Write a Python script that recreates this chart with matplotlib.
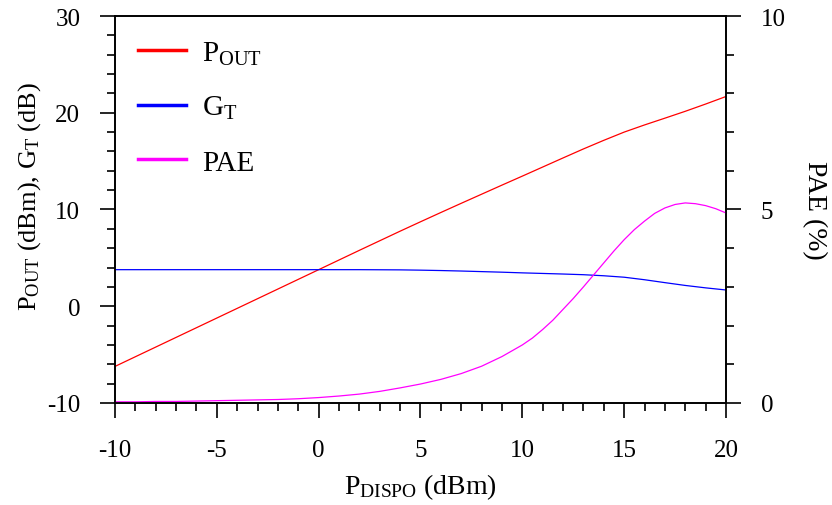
import numpy as np
import matplotlib
matplotlib.use("Agg")
import matplotlib.pyplot as plt
from matplotlib.ticker import MultipleLocator
from matplotlib.lines import Line2D

plt.rcParams['font.family'] = ['Liberation Serif', 'DejaVu Serif']
plt.rcParams['mathtext.fontset'] = 'custom'
plt.rcParams['mathtext.rm'] = 'Liberation Serif'
plt.rcParams['mathtext.it'] = 'Liberation Serif:italic'
plt.rcParams['axes.unicode_minus'] = False

# input power (dBm)
p_dispo = [-10, -9, -8, -7, -6, -5, -4, -3, -2, -1, 0, 1, 2, 3, 4, 5, 6, 7,
           8, 9, 10, 11, 12, 13, 14, 15, 16, 17, 18, 19, 20]
# output power (dBm)
p_out = [-6.22, -5.22, -4.22, -3.22, -2.22, -1.22, -0.22, 0.78, 1.78, 2.78,
         3.78, 4.78, 5.78, 6.77, 7.76, 8.73, 9.69, 10.64, 11.58, 12.52, 13.45,
         14.39, 15.33, 16.26, 17.15, 18.0, 18.74, 19.44, 20.15, 20.9, 21.68]
# transducer gain (dB)
g_t = [3.78, 3.78, 3.78, 3.78, 3.78, 3.78, 3.78, 3.78, 3.78, 3.78, 3.78,
       3.78, 3.78, 3.77, 3.76, 3.73, 3.69, 3.64, 3.58, 3.52, 3.45, 3.39,
       3.33, 3.26, 3.15, 3.0, 2.74, 2.44, 2.15, 1.9, 1.68]
# power added efficiency (%)
pae_x = [-10, -9, -8, -7, -6, -5, -4, -3, -2, -1, 0, 1, 2, 3, 4, 5, 6, 7,
         8, 9, 10, 10.5, 11, 11.5, 12, 12.5, 13, 13.5, 14, 14.5, 15, 15.5,
         16, 16.5, 17, 17.5, 18, 18.5, 19, 19.5, 20]
pae = [0.03, 0.03, 0.04, 0.04, 0.05, 0.06, 0.07, 0.08, 0.09, 0.11, 0.14,
       0.18, 0.23, 0.30, 0.39, 0.49, 0.61, 0.76, 0.95, 1.2, 1.5, 1.68, 1.9,
       2.14, 2.42, 2.7, 3.0, 3.31, 3.62, 3.93, 4.22, 4.48, 4.7, 4.9, 5.04,
       5.13, 5.17, 5.15, 5.1, 5.02, 4.91]

fig = plt.figure(figsize=(8.32, 5.06), dpi=100)
ax = fig.add_axes([0.1382, 0.2016, 0.7344, 0.7648])
ax2 = ax.twinx()

ax.plot(p_dispo, p_out, color='#ff0000', lw=0.9)
ax.plot(p_dispo, g_t, color='#0000ff', lw=0.9)
ax2.plot(pae_x, pae, color='#ff00ff', lw=0.9)

ax.set_xlim(-10, 20)
ax.set_ylim(-10, 30)
ax2.set_ylim(0, 10)

ax.xaxis.set_major_locator(MultipleLocator(5))
ax.xaxis.set_minor_locator(MultipleLocator(1))
ax.yaxis.set_major_locator(MultipleLocator(10))
ax.yaxis.set_minor_locator(MultipleLocator(2))
ax2.yaxis.set_major_locator(MultipleLocator(5))
ax2.yaxis.set_minor_locator(MultipleLocator(1))

for a in (ax, ax2):
    for s in a.spines.values():
        s.set_linewidth(1.2)
    a.tick_params(which='major', direction='out', length=11, width=1.2,
                  labelsize=18, pad=14)
    a.tick_params(which='minor', direction='out', length=6, width=1.2)
ax.tick_params(axis='x', which='major', pad=15)

ax.set_xlabel(r'P$_{\rm DISPO}$ (dBm)', fontsize=20, labelpad=7)
ax.set_ylabel(r'P$_{\rm OUT}$ (dBm), G$_{\rm T}$ (dB)', fontsize=19)
ax.yaxis.set_label_coords(-0.118, 0.535)
ax2.set_ylabel('PAE (%)', fontsize=20, rotation=-90, labelpad=30)

handles = [Line2D([], [], color='#ff0000', lw=2.5),
           Line2D([], [], color='#0000ff', lw=2.5),
           Line2D([], [], color='#ff00ff', lw=2.5)]
labels = [r'P$_{\rm OUT}$', r'G$_{\rm T}$', 'PAE']
ax.legend(handles, labels, loc='upper left', frameon=False, fontsize=21,
          handlelength=1.65, labelspacing=0.95, borderaxespad=0.4,
          handletextpad=0.55, bbox_to_anchor=(0.0, 1.0))

fig.savefig('out.png', dpi=100)
